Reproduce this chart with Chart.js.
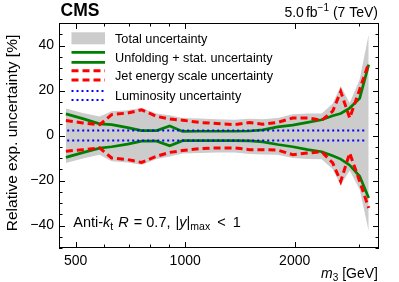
<!DOCTYPE html>
<html>
<head>
<meta charset="utf-8">
<script src="https://cdn.jsdelivr.net/npm/chart.js@4.4.1/dist/chart.umd.min.js"></script>
<style>
  html, body { margin: 0; padding: 0; background: #fff; }
  canvas { display: block; }
</style>
</head>
<body>
<canvas id="uncChart" width="399" height="282"></canvas>
<script>
// Relative experimental uncertainty vs three-jet mass (CMS, 7 TeV)
const m3 = [470, 523, 582, 628, 695, 759, 835, 907, 984, 1096, 1221, 1368,
  1504, 1633, 1796, 1975, 2172, 2373, 2544, 2676, 2833, 3018, 3195];

const totalUp = [12, 10, 8.5, 10.8, 11.2, 12.2, 9.8, 9, 7.8, 7.6, 7.2, 7.0,
  7.4, 7.2, 7.8, 9.5, 9.8, 9.8, 14.2, 22, 14.5, 25, 45];
const totalDown = [-12.2, -10.2, -8.5, -11.4, -12, -13, -10.4, -9.3, -8, -7.8, -7.6, -7.6,
  -8.2, -8.4, -8.6, -10, -10.4, -10.6, -15, -22, -15.5, -24, -42.6];

const unfoldUp = [9.6, 7.5, 5.2, 4.8, 3.5, 2.2, 2.2, 4.2, 1.8, 1.9, 1.9, 1.9,
  2.0, 2.5, 3.8, 4.6, 5.8, 7.0, 8.8, 9.8, 12.2, 16.5, 31.5];
const unfoldDown = [-9.7, -7.6, -5.6, -5.0, -3.8, -2.5, -2.5, -4.6, -2.3, -2.3, -2.3, -2.3,
  -2.4, -2.8, -4.0, -5.0, -6.3, -7.2, -9.0, -10.5, -13.2, -18.1, -27.8];

const jesUp = [6.7, 5.6, 4.8, 9.3, 10.0, 11.4, 8.5, 7.3, 6.8, 5.8, 5.3, 4.8,
  5.8, 5.0, 5.8, 7.8, 7.8, 6.8, 10.8, 19.5, 7.8, 20.5, 32.2];
const jesDown = [-7.0, -6.3, -5.5, -10.0, -10.7, -12.0, -9.2, -7.5, -6.7, -5.8, -5.5, -5.5,
  -6.3, -6.3, -6.5, -8.5, -7.8, -7.2, -12.2, -20.4, -7.8, -20.4, -32.2];

const lumiM3 = [474, 3130];
const lumiUp = [2.2, 2.2];
const lumiDown = [-2.2, -2.2];

const xTicks = [500, 1000, 2000];
const xMinor = [600, 700, 800, 900, 3000];
const yTicks = [-40, -20, 0, 20, 40];

const SANS = '"Liberation Sans", Arial, Helvetica, sans-serif';
const GRAY = "#cccccc";
const GREEN = "#008000";
const RED = "#ff0000";
const BLUE = "#0000ff";

const pts = (xs, ys) => xs.map((x, i) => ({ x: x, y: ys[i] }));

function line(label, xs, ys, color, width, dash, order) {
  return {
    label: label,
    data: pts(xs, ys),
    borderColor: color,
    borderWidth: width,
    borderDash: dash,
    borderCapStyle: "butt",
    pointRadius: 0,
    tension: 0,
    fill: false,
    order: order,
  };
}

// draw a run of text pieces (font / vertical shift per piece)
function richText(ctx, x, y, parts, align) {
  let w = 0;
  parts.forEach(p => {
    ctx.font = p.font;
    w += ctx.measureText(p.t).width + (p.gap || 0);
  });
  if (align === "right") x -= w;
  parts.forEach(p => {
    ctx.font = p.font;
    ctx.fillText(p.t, x, y + (p.dy || 0));
    x += ctx.measureText(p.t).width + (p.gap || 0);
  });
}

const decorations = {
  id: "decorations",
  afterDraw(chart) {
    const { ctx, chartArea: a, scales: { x, y } } = chart;
    ctx.save();
    ctx.strokeStyle = "#000";
    ctx.lineWidth = 1;
    ctx.strokeRect(a.left + 0.5, a.top + 0.5, a.right - a.left - 1, a.bottom - a.top - 1);

    // x ticks, bottom and top
    ctx.beginPath();
    xTicks.concat(xMinor).forEach(v => {
      const px = Math.round(x.getPixelForValue(v)) + 0.5;
      const len = xTicks.includes(v) ? 6 : 3.5;
      ctx.moveTo(px, a.bottom); ctx.lineTo(px, a.bottom - len);
      ctx.moveTo(px, a.top); ctx.lineTo(px, a.top + len);
    });
    // y ticks, left and right
    for (let v = -50; v <= 50; v += 5) {
      const py = Math.round(y.getPixelForValue(v)) + 0.5;
      const len = v % 20 === 0 ? 6 : 3.5;
      ctx.moveTo(a.left, py); ctx.lineTo(a.left + len, py);
      ctx.moveTo(a.right, py); ctx.lineTo(a.right - len, py);
    }
    ctx.stroke();

    // legend
    const lx0 = 71.5, lx1 = 105, tx = 115;
    ctx.fillStyle = GRAY;
    ctx.fillRect(lx0, 32.3, lx1 - lx0, 12);
    const pair = (color, width, dash, y1, y2) => {
      ctx.strokeStyle = color;
      ctx.lineWidth = width;
      ctx.setLineDash(dash);
      ctx.beginPath();
      ctx.moveTo(lx0, y1); ctx.lineTo(lx1, y1);
      ctx.moveTo(lx0, y2); ctx.lineTo(lx1, y2);
      ctx.stroke();
    };
    pair(GREEN, 2.7, [], 52.3, 62.3);
    pair(RED, 3, [7, 4], 70.7, 80);
    pair(BLUE, 2, [2, 3], 91, 100);
    ctx.setLineDash([]);

    ctx.fillStyle = "#000";
    ctx.textAlign = "left";
    ctx.textBaseline = "alphabetic";
    ctx.font = "12.7px " + SANS;
    ctx.fillText("Total uncertainty", tx, 42.8);
    ctx.fillText("Unfolding + stat. uncertainty", tx, 61.8);
    ctx.fillText("Jet energy scale uncertainty", tx, 80.3);
    ctx.fillText("Luminosity uncertainty", tx, 99.5);

    // header
    ctx.font = "bold 17.5px " + SANS;
    ctx.fillText("CMS", 60.5, 16);
    const f14 = "14px " + SANS, f10 = "10px " + SANS;
    richText(ctx, 378, 17, [
      { t: "5.0", font: f14, gap: 2 },
      { t: "fb", font: f14 },
      { t: "\u22121", font: f10, dy: -6 },
      { t: " (7 TeV)", font: f14 },
    ], "right");

    // jet selection label
    const r15 = "14.5px " + SANS, i15 = "italic 14.5px " + SANS, s10 = "10.5px " + SANS;
    richText(ctx, 73.3, 227, [
      { t: "Anti-", font: r15 },
      { t: "k", font: i15 },
      { t: "t", font: s10, dy: 3, gap: 1 },
      { t: " ", font: r15 },
      { t: "R", font: i15, gap: 1 },
      { t: " = 0.7, ", font: r15, gap: 1 },
      { t: "|", font: r15 },
      { t: "y", font: i15 },
      { t: "|", font: r15 },
      { t: "max", font: s10, dy: 3, gap: 3 },
      { t: " <", font: r15, gap: 3 },
      { t: " 1", font: r15 },
    ]);

    // axis titles
    richText(ctx, 378, 277.5, [
      { t: "m", font: "italic 14px " + SANS },
      { t: "3", font: f10, dy: 3 },
      { t: " [GeV]", font: f14 },
    ], "right");

    ctx.translate(17, 133);
    ctx.rotate(-Math.PI / 2);
    ctx.textAlign = "center";
    ctx.font = "15.5px " + SANS;
    ctx.fillText("Relative exp. uncertainty [%]", 0, 0);
    ctx.restore();
  },
};

Chart.defaults.font.family = SANS;
Chart.defaults.color = "#000";

const totalUpSet = line("Total uncertainty", m3, totalUp, GRAY, 0, [], 10);
totalUpSet.fill = "+1";
totalUpSet.backgroundColor = GRAY;
const totalDownSet = line("", m3, totalDown, GRAY, 0, [], 11);

new Chart(document.getElementById("uncChart"), {
  type: "line",
  data: {
    datasets: [
      totalUpSet,
      totalDownSet,
      line("Unfolding + stat. uncertainty", m3, unfoldUp, GREEN, 2.7, [], 5),
      line("", m3, unfoldDown, GREEN, 2.7, [], 5),
      line("Jet energy scale uncertainty", m3, jesUp, RED, 3, [7, 4], 3),
      line("", m3, jesDown, RED, 3, [7, 4], 3),
      line("Luminosity uncertainty", lumiM3, lumiUp, BLUE, 2, [2, 3], 1),
      line("", lumiM3, lumiDown, BLUE, 2, [2, 3], 1),
    ],
  },
  options: {
    responsive: false,
    animation: false,
    devicePixelRatio: 1,
    layout: { padding: { left: 0, right: 20, top: 23, bottom: 0 } },
    plugins: {
      legend: { display: false },
      tooltip: { enabled: false },
    },
    scales: {
      x: {
        type: "logarithmic",
        min: 450,
        max: 3410,
        grid: { display: false, drawTicks: false },
        border: { display: false },
        afterBuildTicks: s => { s.ticks = xTicks.map(v => ({ value: v })); },
        afterFit: s => { s.height = 34; },
        ticks: {
          autoSkip: false,
          maxRotation: 0,
          padding: 5,
          font: { size: 14 },
          callback: v => String(v),
        },
      },
      y: {
        min: -50,
        max: 50,
        grid: { display: false, drawTicks: false },
        border: { display: false },
        afterBuildTicks: s => { s.ticks = yTicks.map(v => ({ value: v })); },
        afterFit: s => { s.width = 59; },
        ticks: {
          padding: 5,
          font: { size: 14 },
          callback: v => (v < 0 ? "\u2212" + Math.abs(v) : String(v)),
        },
      },
    },
  },
  plugins: [decorations],
});
</script>
</body>
</html>
